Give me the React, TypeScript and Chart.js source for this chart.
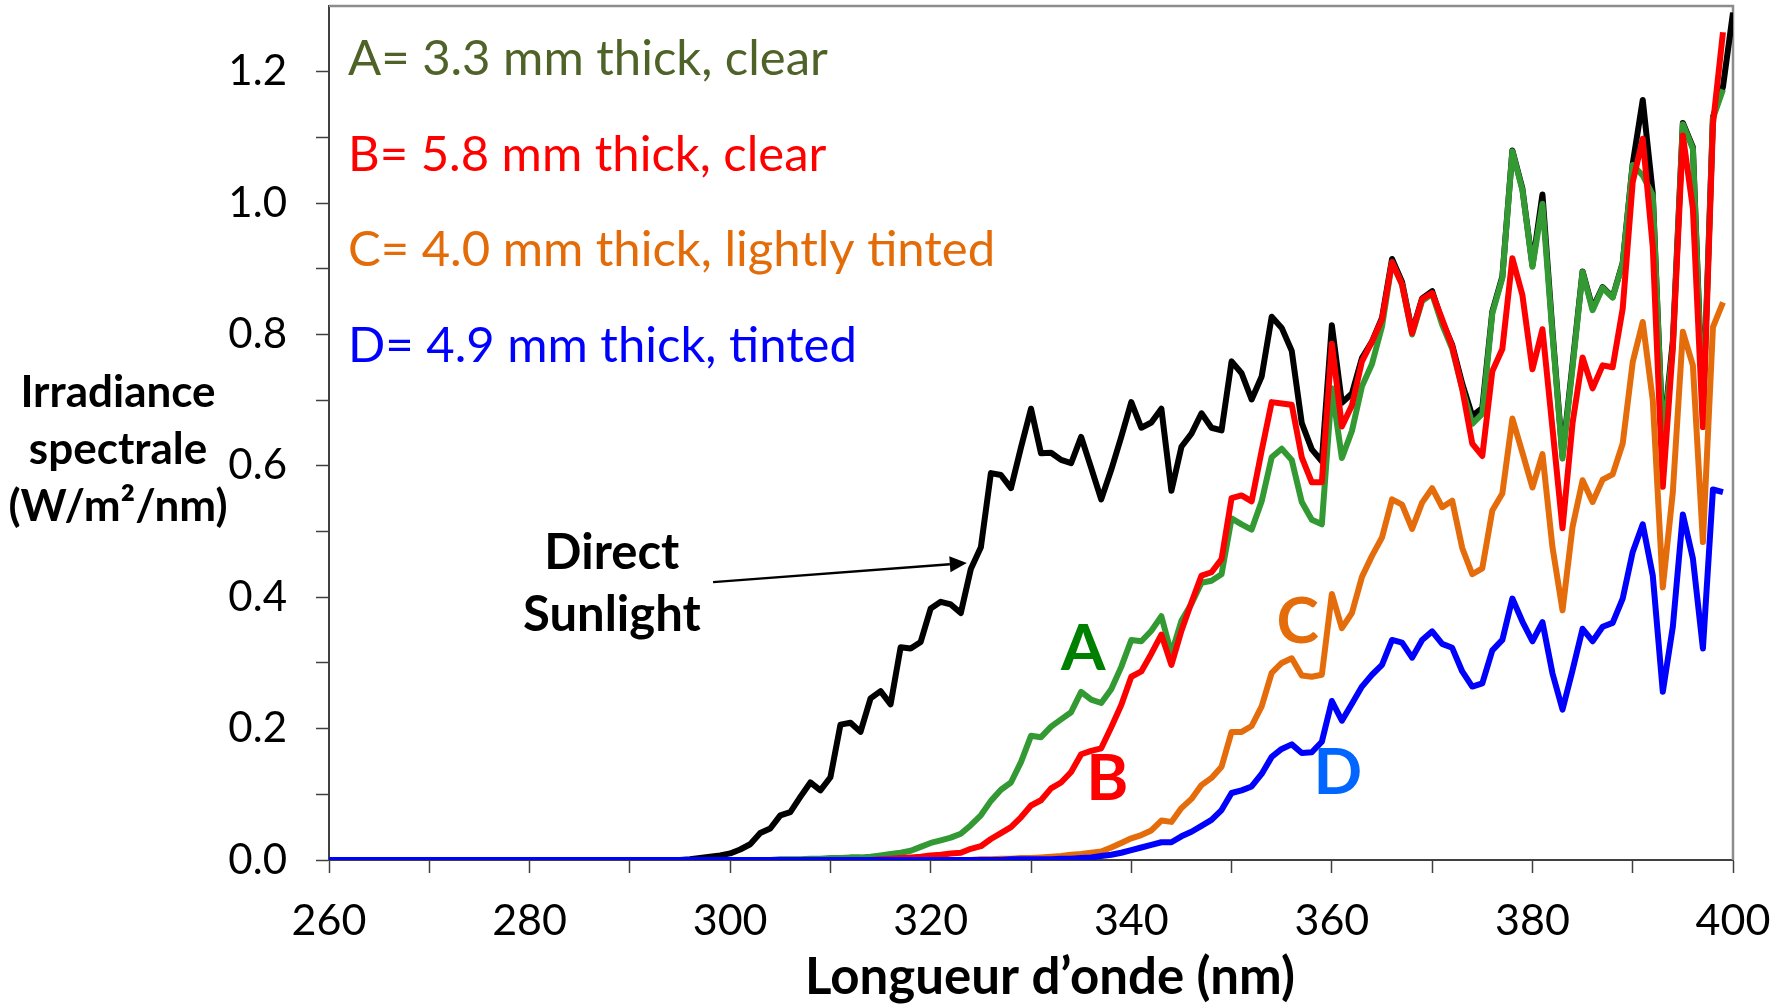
import React, { useEffect, useRef } from 'react';
import { Chart, registerables } from 'chart.js';

Chart.register(...registerables);

// Wavelength grid (nm): flat start at 260, then 1 nm steps from 295 to 400
const WAVELENGTHS = [
  260,
  295, 296, 297, 298, 299, 300,
  301, 302, 303, 304, 305, 306, 307, 308, 309, 310,
  311, 312, 313, 314, 315, 316, 317, 318, 319, 320,
  321, 322, 323, 324, 325, 326, 327, 328, 329, 330,
  331, 332, 333, 334, 335, 336, 337, 338, 339, 340,
  341, 342, 343, 344, 345, 346, 347, 348, 349, 350,
  351, 352, 353, 354, 355, 356, 357, 358, 359, 360,
  361, 362, 363, 364, 365, 366, 367, 368, 369, 370,
  371, 372, 373, 374, 375, 376, 377, 378, 379, 380,
  381, 382, 383, 384, 385, 386, 387, 388, 389, 390,
  391, 392, 393, 394, 395, 396, 397, 398, 399, 400,
];

// Spectral irradiance, W/m²/nm
const DIRECT_SUNLIGHT = [
  0,
  0, 0.001, 0.003, 0.005, 0.007, 0.010,
  0.016, 0.024, 0.041, 0.048, 0.068, 0.073, 0.096, 0.118, 0.106, 0.126,
  0.206, 0.209, 0.195, 0.246, 0.257, 0.237, 0.324, 0.322, 0.332, 0.383,
  0.393, 0.389, 0.376, 0.443, 0.476, 0.589, 0.586, 0.566, 0.628, 0.687,
  0.619, 0.620, 0.609, 0.604, 0.644, 0.597, 0.549, 0.594, 0.644, 0.697,
  0.658, 0.666, 0.687, 0.562, 0.629, 0.649, 0.680, 0.658, 0.654, 0.759,
  0.741, 0.701, 0.736, 0.827, 0.810, 0.775, 0.665, 0.625, 0.607, 0.814,
  0.696, 0.710, 0.764, 0.789, 0.825, 0.915, 0.880, 0.804, 0.855, 0.866,
  0.820, 0.784, 0.725, 0.676, 0.688, 0.835, 0.888, 1.080, 1.022, 0.905,
  1.013, 0.805, 0.615, 0.755, 0.896, 0.840, 0.872, 0.857, 0.909, 1.060,
  1.157, 1.015, 0.640, 0.790, 1.122, 1.085, 0.680, 1.131, 1.177, 1.290,
];

const GLASS_A = [
  0,
  0, 0, 0, 0, 0, 0,
  0, 0, 0, 0, 0.001, 0.001, 0.001, 0.002, 0.002, 0.003,
  0.003, 0.004, 0.004, 0.005, 0.007, 0.009, 0.011, 0.014, 0.020, 0.026,
  0.030, 0.034, 0.040, 0.053, 0.068, 0.090, 0.107, 0.118, 0.149, 0.189,
  0.187, 0.203, 0.214, 0.225, 0.256, 0.244, 0.239, 0.260, 0.294, 0.335,
  0.333, 0.349, 0.371, 0.314, 0.364, 0.390, 0.422, 0.425, 0.435, 0.520,
  0.511, 0.503, 0.546, 0.613, 0.626, 0.609, 0.545, 0.518, 0.511, 0.718,
  0.612, 0.653, 0.721, 0.755, 0.812, 0.910, 0.876, 0.800, 0.851, 0.862,
  0.815, 0.778, 0.718, 0.664, 0.679, 0.832, 0.886, 1.079, 1.020, 0.903,
  0.999, 0.800, 0.611, 0.750, 0.895, 0.837, 0.871, 0.856, 0.908, 1.058,
  1.042, 1.012, 0.635, 0.780, 1.120, 1.083, 0.670, 1.129, 1.173, null,
];

const GLASS_B = [
  0,
  0, 0, 0, 0, 0, 0,
  0, 0, 0, 0, 0, 0, 0, 0, 0, 0,
  0, 0, 0, 0, 0.001, 0.002, 0.003, 0.004, 0.005, 0.007,
  0.008, 0.010, 0.011, 0.017, 0.021, 0.032, 0.041, 0.050, 0.065, 0.083,
  0.091, 0.109, 0.118, 0.134, 0.161, 0.166, 0.170, 0.202, 0.236, 0.279,
  0.287, 0.314, 0.343, 0.297, 0.349, 0.392, 0.433, 0.438, 0.458, 0.551,
  0.555, 0.546, 0.623, 0.697, 0.695, 0.693, 0.613, 0.575, 0.575, 0.786,
  0.660, 0.692, 0.759, 0.789, 0.823, 0.910, 0.876, 0.802, 0.854, 0.863,
  0.823, 0.782, 0.717, 0.634, 0.615, 0.744, 0.778, 0.916, 0.860, 0.747,
  0.808, 0.657, 0.505, 0.665, 0.765, 0.718, 0.753, 0.750, 0.839, 1.032,
  1.098, 0.933, 0.568, 0.780, 1.103, 0.992, 0.659, 1.120, 1.260, null,
];

const GLASS_C = [
  0,
  0, 0, 0, 0, 0, 0,
  0, 0, 0, 0, 0, 0, 0, 0, 0, 0,
  0, 0, 0, 0, 0, 0, 0, 0, 0, 0,
  0, 0, 0, 0, 0.001, 0.001, 0.002, 0.002, 0.003, 0.003,
  0.004, 0.005, 0.006, 0.008, 0.009, 0.011, 0.013, 0.019, 0.026, 0.033,
  0.038, 0.045, 0.060, 0.058, 0.079, 0.093, 0.114, 0.125, 0.142, 0.195,
  0.195, 0.204, 0.234, 0.285, 0.300, 0.307, 0.281, 0.279, 0.282, 0.405,
  0.353, 0.376, 0.431, 0.463, 0.491, 0.549, 0.541, 0.504, 0.544, 0.566,
  0.537, 0.547, 0.475, 0.435, 0.444, 0.532, 0.558, 0.672, 0.620, 0.567,
  0.618, 0.476, 0.380, 0.507, 0.578, 0.545, 0.579, 0.587, 0.634, 0.758,
  0.819, 0.700, 0.415, 0.560, 0.804, 0.753, 0.484, 0.811, 0.849, null,
];

const GLASS_D = [
  0,
  0, 0, 0, 0, 0, 0,
  0, 0, 0, 0, 0, 0, 0, 0, 0, 0,
  0, 0, 0, 0, 0, 0, 0, 0, 0, 0,
  0, 0, 0, 0, 0, 0, 0, 0.001, 0.001, 0.001,
  0.001, 0.001, 0.002, 0.002, 0.003, 0.004, 0.006, 0.008, 0.011, 0.015,
  0.019, 0.023, 0.027, 0.027, 0.036, 0.043, 0.052, 0.061, 0.076, 0.102,
  0.106, 0.112, 0.131, 0.157, 0.169, 0.176, 0.163, 0.164, 0.180, 0.242,
  0.212, 0.238, 0.264, 0.282, 0.297, 0.335, 0.331, 0.308, 0.335, 0.348,
  0.329, 0.323, 0.287, 0.264, 0.269, 0.319, 0.335, 0.398, 0.363, 0.333,
  0.362, 0.284, 0.229, 0.289, 0.352, 0.333, 0.355, 0.361, 0.398, 0.469,
  0.511, 0.433, 0.256, 0.355, 0.526, 0.459, 0.322, 0.564, 0.560, null,
];

const LEGEND_LINES = [
  'A= 3.3 mm thick, clear',
  'B= 5.8 mm thick, clear',
  'C= 4.0 mm thick, lightly tinted',
  'D= 4.9 mm thick, tinted',
];
const LEGEND_COLORS = ['#4F6228', '#FF0000', '#E36C09', '#0000FF'];

// Curve letters: [letter, wavelength, irradiance at baseline, colour]
const CURVE_LETTERS: [string, number, number, string][] = [
  ['A', 335.2, 0.289, '#008000'],
  ['B', 337.6, 0.092, '#FF0000'],
  ['C', 356.6, 0.331, '#E46C0A'],
  ['D', 360.6, 0.1, '#0066FF'],
];

const X_TITLE = 'Longueur d\u2019onde (nm)';
const Y_TITLE = ['Irradiance', 'spectrale', '(W/m\u00B2/nm)'];
const SUN_LABEL = ['Direct', 'Sunlight'];

const FONT = 'Lato, "Open Sans", sans-serif';

const annotationPlugin = {
  id: 'spectrumAnnotations',
  beforeDatasetsDraw(chart: any) {
    const { ctx, chartArea: a } = chart;
    ctx.save();
    ctx.strokeStyle = '#8c8c8c';
    ctx.lineWidth = 2.5;
    ctx.beginPath();
    ctx.moveTo(a.left, a.top);
    ctx.lineTo(a.right, a.top);
    ctx.lineTo(a.right, a.bottom);
    ctx.stroke();
    ctx.restore();
  },
  afterDatasetsDraw(chart: any) {
    const { ctx, chartArea: a } = chart;
    const xs = chart.scales.x;
    const ys = chart.scales.y;
    const px = (v: number) => xs.getPixelForValue(v);
    const py = (v: number) => ys.getPixelForValue(v);
    ctx.save();

    // legend block, top-left of the plot
    ctx.textAlign = 'left';
    ctx.textBaseline = 'alphabetic';
    ctx.font = `49px ${FONT}`;
    LEGEND_LINES.forEach((t, i) => {
      ctx.fillStyle = LEGEND_COLORS[i];
      ctx.fillText(t, a.left + 19, a.top + 69 + i * 95.5);
    });

    // curve letters
    ctx.textAlign = 'center';
    ctx.font = `bold 64px ${FONT}`;
    CURVE_LETTERS.forEach(([t, x, y, c]) => {
      ctx.fillStyle = c;
      ctx.fillText(t, px(x), py(y));
    });

    // "Direct Sunlight" label with arrow
    ctx.fillStyle = '#000';
    ctx.font = `bold 49px ${FONT}`;
    ctx.fillText(SUN_LABEL[0], px(288.2), py(0.4435));
    ctx.fillText(SUN_LABEL[1], px(288.2), py(0.348));

    const x0 = px(298.3), y0 = py(0.423);
    const x1 = px(323.6), y1 = py(0.452);
    const ang = Math.atan2(y1 - y0, x1 - x0);
    const head = 17, half = 8;
    const bx = x1 - head * Math.cos(ang), by = y1 - head * Math.sin(ang);
    ctx.strokeStyle = '#000';
    ctx.lineWidth = 2.5;
    ctx.beginPath();
    ctx.moveTo(x0, y0);
    ctx.lineTo(bx, by);
    ctx.stroke();
    ctx.beginPath();
    ctx.moveTo(x1, y1);
    ctx.lineTo(bx + half * Math.sin(ang), by - half * Math.cos(ang));
    ctx.lineTo(bx - half * Math.sin(ang), by + half * Math.cos(ang));
    ctx.closePath();
    ctx.fill();

    // axis titles
    ctx.fillStyle = '#000';
    ctx.font = `bold 51px ${FONT}`;
    ctx.fillText(X_TITLE, 1050, 994);
    ctx.font = `bold 44px ${FONT}`;
    Y_TITLE.forEach((t, i) => ctx.fillText(t, 118, 407 + i * 57));

    ctx.restore();
  },
};

export default function App() {
  const canvasRef = useRef<HTMLCanvasElement>(null);

  useEffect(() => {
    document.body.style.margin = '0';
    const canvas = canvasRef.current;
    if (!canvas) return;
    const toPoints = (vals: (number | null)[]) =>
      WAVELENGTHS.map((x, i) => ({ x, y: vals[i] }));

    const line = (label: string, vals: (number | null)[], color: string, order: number) => ({
      label,
      data: toPoints(vals),
      borderColor: color,
      backgroundColor: color,
      borderWidth: 6,
      pointRadius: 0,
      tension: 0,
      fill: false,
      spanGaps: false,
      borderJoinStyle: 'round' as const,
      order,
    });

    const chart = new Chart(canvas, {
      type: 'line',
      data: {
        datasets: [
          line('Direct Sunlight', DIRECT_SUNLIGHT, '#000000', 5),
          line('A', GLASS_A, '#339933', 4),
          line('B', GLASS_B, '#FF0000', 3),
          line('C', GLASS_C, '#E46C0A', 2),
          line('D', GLASS_D, '#0000FF', 1),
        ],
      },
      options: {
        animation: false,
        responsive: false,
        devicePixelRatio: 1,
        layout: { padding: { top: 6, right: 45, bottom: 0, left: 0 } },
        plugins: { legend: { display: false }, tooltip: { enabled: false } },
        scales: {
          x: {
            type: 'linear',
            min: 260,
            max: 400,
            afterFit: (s: any) => {
              s.height = 146;
              s.paddingLeft = 0;
              s.paddingRight = 0;
            },
            border: { display: true, color: '#404040', width: 2 },
            grid: {
              display: true,
              drawOnChartArea: false,
              drawTicks: true,
              tickLength: 13,
              tickWidth: 1.5,
              tickColor: '#404040',
            },
            ticks: {
              stepSize: 10,
              autoSkip: false,
              maxRotation: 0,
              minRotation: 0,
              padding: 22,
              color: '#000',
              font: { family: FONT, size: 43 },
              callback: (v: any) => (Number(v) % 20 === 0 ? String(v) : ''),
            },
          },
          y: {
            min: 0,
            max: 1.3,
            afterFit: (s: any) => {
              s.width = 329;
              s.paddingTop = 0;
              s.paddingBottom = 0;
            },
            border: { display: true, color: '#404040', width: 2 },
            grid: {
              display: true,
              drawOnChartArea: false,
              drawTicks: true,
              tickLength: 13,
              tickWidth: 1.5,
              tickColor: (c: any) => (c.tick && c.tick.value > 1.25 ? 'rgba(0,0,0,0)' : '#404040'),
            },
            ticks: {
              stepSize: 0.1,
              padding: 29,
              color: '#000',
              font: { family: FONT, size: 42 },
              callback: (v: any) => {
                const n = Number(v);
                return Math.round(n * 10) % 2 === 0 ? n.toFixed(1) : '';
              },
            },
          },
        },
      },
      plugins: [annotationPlugin],
    } as any);

    return () => chart.destroy();
  }, []);

  return (
    <div style={{ width: 1778, height: 1006, background: '#ffffff' }}>
      <canvas ref={canvasRef} width={1778} height={1006} style={{ display: 'block' }} />
    </div>
  );
}
